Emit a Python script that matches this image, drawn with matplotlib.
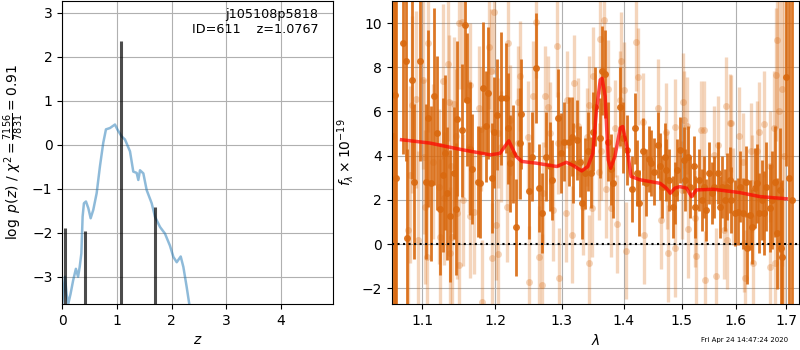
import matplotlib
matplotlib.use('Agg')
import matplotlib.pyplot as plt
from matplotlib.ticker import FixedLocator, NullLocator, FixedFormatter

# ---- left panel: redshift PDF ----
z_grid = [0.0, 0.05, 0.079, 0.11, 0.152, 0.2, 0.25, 0.29, 0.32, 0.35, 0.373, 0.397,
          0.434, 0.477, 0.52, 0.568, 0.63, 0.69, 0.75, 0.80, 0.873, 0.965, 1.008,
          1.087, 1.148, 1.24, 1.30, 1.362, 1.392, 1.423, 1.484, 1.545, 1.637, 1.698,
          1.79, 1.88, 1.97, 2.034, 2.095, 2.168, 2.217, 2.278, 2.327]
logpz = [-3.62, -3.0, -3.39, -3.62, -3.39, -3.08, -2.82, -3.0, -2.77, -2.47, -1.63, -1.33,
         -1.29, -1.44, -1.67, -1.48, -1.10, -0.49, 0.04, 0.35, 0.38, 0.46, 0.35,
         0.19, 0.12, -0.15, -0.61, -0.64, -0.80, -0.58, -0.65, -1.03, -1.33, -1.64,
         -1.87, -2.02, -2.29, -2.55, -2.67, -2.54, -2.78, -3.24, -3.64]
z_peaks = [0.05, 0.416, 1.077, 1.703]
peak_vals = [-1.89, -1.97, 2.37, -1.41]

# ---- right panel: spectrum ----
wl_dark = [1.0625, 1.0645, 1.0665, 1.0753, 1.0784, 1.0797, 1.087, 1.0896, 1.097, 1.1045, 1.108, 1.1115,
           1.116, 1.119, 1.123, 1.127, 1.130, 1.133, 1.137, 1.142, 1.145, 1.147,
           1.153, 1.158, 1.160, 1.164, 1.167, 1.176, 1.179, 1.183, 1.187, 1.190,
           1.195, 1.199, 1.203, 1.208, 1.216, 1.219, 1.222, 1.226, 1.231, 1.236,
           1.238, 1.250, 1.255, 1.260, 1.265, 1.269, 1.275, 1.281, 1.285, 1.294,
           1.299, 1.303, 1.311, 1.315, 1.317, 1.324, 1.328, 1.331, 1.336, 1.341,
           1.346, 1.349, 1.353, 1.360, 1.364, 1.369, 1.373, 1.378, 1.382, 1.394,
           1.398, 1.406, 1.413, 1.418, 1.422, 1.426, 1.432, 1.438, 1.442, 1.446,
           1.451, 1.458, 1.462, 1.466, 1.471, 1.473, 1.478, 1.484, 1.489, 1.492,
           1.498, 1.504, 1.507, 1.512, 1.516, 1.522, 1.525, 1.532, 1.537, 1.541,
           1.544, 1.550, 1.555, 1.560, 1.566, 1.570, 1.575, 1.580, 1.584, 1.590,
           1.592, 1.599, 1.604, 1.609, 1.615, 1.621, 1.622, 1.627, 1.632, 1.637,
           1.641, 1.645, 1.652, 1.655, 1.660, 1.667, 1.672, 1.678, 1.682, 1.687,
           1.690, 1.692, 1.699, 1.706, 1.712]
fl_dark = [4.9, 6.75, 3.0, 9.09, 8.26, 0.28, 7.43, 2.83, 8.26, 2.83, 5.70, 2.75,
           6.68, 5.03, 1.59, 3.13, 4.13, 2.30, 1.27, 3.21, 1.58, 5.67,
           5.14, 9.92, 6.53, 4.31, 3.39, 2.83, 2.78, 7.06, 5.32, 6.83,
           2.98, 5.05, 5.85, 6.60, 6.60, 5.24, 3.66, 4.08, 0.76, 4.56,
           5.88, 2.42, 3.96, 7.96, 2.53, 1.40, 3.96, 3.51, 2.90, 5.70,
           4.13, 4.64, 4.64, 4.86, 3.66, 4.71, 3.73, 1.85, 3.21, 4.19,
           3.23, 5.09, 6.22, 4.79, 7.85, 7.70, 4.64, 3.39, 2.78, 6.22,
           4.82, 4.26, 2.48, 5.24, 3.21, 1.85, 4.19, 2.78, 3.84, 3.66,
           3.28, 4.49, 3.51, 2.60, 3.96, 3.36, 2.90, 1.69, 2.30, 3.36,
           4.26, 3.81, 2.90, 3.96, 2.60, 3.51, 1.69, 2.90, 2.00, 2.60,
           1.54, 3.21, 2.30, 2.60, 3.21, 1.69, 2.60, 2.00, 2.60, 2.90,
           2.00, 1.40, 1.47, 2.60, 1.40, 2.83, -0.19, 1.32, 0.79, 2.53,
           2.75, 1.40, 2.00, 1.40, 2.60, 1.62, 2.00, 2.83, 0.49, 2.45,
           -0.19, -0.60, 7.55, 3.0, 2.0]
er_dark = [20.0, 20.0, 20.0, 5.0, 4.5, 4.0, 4.5, 3.5, 4.5, 3.5, 4.0, 3.5,
           4.0, 3.5, 3.0, 3.5, 3.5, 3.0, 3.0, 3.0, 3.0, 3.5,
           3.0, 3.5, 3.0, 3.0, 2.5, 2.5, 2.5, 3.0, 2.5, 3.0,
           2.5, 2.5, 2.5, 3.0, 2.5, 2.5, 2.2, 2.2, 2.2, 2.5,
           2.5, 2.2, 2.0, 2.5, 2.0, 1.8, 2.0, 2.0, 1.8, 2.2,
           1.8, 1.8, 2.0, 1.8, 1.8, 1.8, 1.6, 1.6, 1.6, 1.8,
           1.6, 1.8, 1.8, 1.8, 2.0, 2.0, 1.8, 1.6, 1.6, 1.8,
           1.6, 1.6, 1.5, 1.6, 1.5, 1.5, 1.5, 1.5, 1.5, 1.5,
           1.5, 1.5, 1.5, 1.4, 1.5, 1.4, 1.4, 1.4, 1.4, 1.4,
           1.5, 1.5, 1.4, 1.4, 1.4, 1.4, 1.4, 1.4, 1.4, 1.4,
           1.4, 1.4, 1.4, 1.4, 1.4, 1.4, 1.4, 1.4, 1.5, 1.5,
           1.5, 1.5, 1.5, 1.6, 1.6, 1.6, 1.6, 1.6, 1.7, 1.8,
           1.8, 1.8, 1.8, 1.9, 2.0, 2.0, 2.2, 2.5, 2.5, 2.8,
           3.0, 3.5, 4.0, 10.0, 20.0]

wl_light = [1.082, 1.084, 1.087, 1.092, 1.095, 1.101, 1.102, 1.103, 1.106, 1.108,
            1.114, 1.122, 1.124, 1.128, 1.129, 1.134, 1.136, 1.137, 1.138, 1.140,
            1.143, 1.145, 1.146, 1.149, 1.150, 1.154, 1.155, 1.163, 1.164, 1.165,
            1.170, 1.177, 1.180, 1.181, 1.191, 1.194, 1.195, 1.199, 1.202, 1.204,
            1.205, 1.209, 1.218, 1.219, 1.222, 1.233, 1.234, 1.237, 1.249, 1.250,
            1.256, 1.260, 1.265, 1.269, 1.271, 1.274, 1.279, 1.281, 1.286, 1.292,
            1.294, 1.296, 1.307, 1.308, 1.315, 1.319, 1.326, 1.333, 1.339, 1.342,
            1.343, 1.347, 1.350, 1.359, 1.361, 1.362, 1.367, 1.371, 1.374, 1.379,
            1.385, 1.389, 1.393, 1.396, 1.401, 1.404, 1.421, 1.423, 1.433, 1.434,
            1.458, 1.464, 1.472, 1.474, 1.476, 1.488, 1.489, 1.501, 1.502, 1.504,
            1.510, 1.511, 1.525, 1.527, 1.535, 1.541, 1.542, 1.560, 1.563, 1.566,
            1.578, 1.581, 1.584, 1.590, 1.591, 1.596, 1.607, 1.615, 1.616, 1.619,
            1.629, 1.632, 1.633, 1.642, 1.645, 1.656, 1.667, 1.668, 1.675, 1.678,
            1.680, 1.682, 1.686, 1.691, 1.696]
fl_light = [0.64, 3.13, 6.30, 6.56, 0.19, 7.40, 3.96, 1.68, -0.57, 9.09,
            3.73, 2.60, 0.34, 7.36, 2.07, 8.16, 6.45, -0.42, 3.54, 0.31,
            6.35, 4.90, 1.40, -0.95, 10.0, 10.03, 2.0, 4.41, 1.27, 7.2,
            1.47, 6.15, 5.20, -2.61, 8.91, 7.85, -0.64, 10.5, 0.87, 5.02,
            -0.45, 4.41, 1.69, 9.09, 5.62, 6.45, 4.56, 7.61, 4.86, -1.70,
            6.68, 10.03, -0.57, -1.85, 2.30, 6.68, 6.22, 5.03, 1.54, 8.97,
            4.56, -1.55, 1.40, 6.53, 0.42, 7.28, 5.32, 1.69, 4.84, 6.30,
            -0.87, 1.62, 7.61, 3.28, 9.27, 4.19, 10.12, 2.48, 7.01, 1.62,
            5.24, 0.91, 6.53, 8.30, 6.95, -0.30, 9.12, 7.58, 5.54, 0.41,
            6.15, 1.09, 5.09, 2.90, -0.42, -0.19, 5.29, 2.45, 6.45, 5.62,
            5.35, 0.67, 1.17, -0.54, 5.17, 5.17, -1.63, 4.04, -1.45, 4.49,
            0.64, 6.25, 0.19, 5.50, 5.47, 2.15, 4.90, 3.73, 0.04, -1.55,
            4.19, 2.75, -0.87, 4.19, 5.05, 5.44, 3.51, -1.02, 5.24, -0.87,
            7.66, 9.24, 6.0, 7.01, 4.0]
er_light = [4.0, 4.0, 4.0, 4.0, 4.0, 4.0, 3.5, 3.5, 3.5, 4.0,
            3.5, 3.5, 3.5, 3.5, 3.0, 3.5, 3.0, 3.0, 3.0, 3.0,
            3.0, 3.0, 3.0, 3.0, 3.0, 3.0, 3.0, 3.0, 2.8, 2.8,
            2.8, 2.8, 2.8, 2.8, 2.8, 2.8, 2.5, 2.8, 2.5, 2.5,
            2.5, 2.5, 2.5, 2.5, 2.5, 2.5, 2.5, 2.5, 2.5, 2.5,
            2.5, 2.5, 2.3, 2.3, 2.3, 2.3, 2.3, 2.3, 2.3, 2.3,
            2.3, 2.3, 2.2, 2.2, 2.2, 2.2, 2.2, 2.2, 2.2, 2.2,
            2.2, 2.2, 2.2, 2.2, 2.5, 2.2, 2.5, 2.2, 2.2, 2.2,
            2.2, 2.2, 2.2, 2.2, 2.2, 2.2, 2.2, 2.2, 2.2, 2.2,
            2.2, 2.2, 2.2, 2.2, 2.2, 2.2, 2.2, 2.2, 2.2, 2.2,
            2.2, 2.2, 2.2, 2.2, 2.2, 2.2, 2.2, 2.2, 2.2, 2.2,
            2.2, 2.2, 2.2, 2.2, 2.2, 2.2, 2.2, 2.2, 2.2, 2.2,
            2.2, 2.2, 2.2, 2.3, 2.3, 2.4, 2.5, 2.5, 2.6, 2.8,
            3.0, 4.0, 8.0, 8.0, 10.0]

wl_model = [1.0731, 1.110, 1.155, 1.193, 1.207, 1.220, 1.231, 1.239, 1.261, 1.292,
            1.307, 1.318, 1.331, 1.341, 1.349, 1.355, 1.361, 1.364, 1.369, 1.374,
            1.378, 1.385, 1.394, 1.398, 1.405, 1.412, 1.427, 1.462, 1.473, 1.480,
            1.488, 1.497, 1.509, 1.518, 1.527, 1.558, 1.608, 1.647, 1.700]
fl_model = [4.72, 4.57, 4.26, 4.04, 4.10, 4.67, 3.96, 3.74, 3.66, 3.51,
            3.70, 3.55, 3.31, 3.51, 4.11, 6.08, 7.43, 7.50, 6.68, 3.81,
            3.43, 3.96, 5.25, 5.32, 4.42, 3.06, 2.91, 2.75, 2.53, 2.30,
            2.53, 2.60, 2.53, 2.15, 2.45, 2.48, 2.33, 2.15, 2.05]

wl_ticks = [1.1, 1.2, 1.3, 1.4, 1.5, 1.6, 1.7]
wl_labels = ['1.1', '1.2', '1.3', '1.4', '1.5', '1.6', '1.7']

orange = '#d9690f'

fig = plt.figure(figsize=(8, 3.5), dpi=100)
ax1 = fig.add_axes([0.0778, 0.1314, 0.3388, 0.866])
ax2 = fig.add_axes([0.4896, 0.1314, 0.5095, 0.866])

# left: p(z)
ax1.plot(z_grid, logpz, color='#1f77b4', alpha=0.5, lw=1.8)
ax1.vlines(z_peaks, -5, peak_vals, color='k', alpha=0.7, lw=2.2)
ax1.set_xlim(0, 4.96)
ax1.set_ylim(-3.62, 3.27)
ax1.set_xticks([0, 1, 2, 3, 4])
ax1.set_yticks([-3, -2, -1, 0, 1, 2, 3])
ax1.grid(True)
ax1.set_xlabel('$z$')
ax1.set_ylabel(r'$\log\ p(z)$ / $\chi^2=\frac{7156}{7831}=0.91$')
ax1.text(0.945, 0.975, 'j105108p5818\nID=611    z=1.0767', transform=ax1.transAxes,
         ha='right', va='top', fontsize=9.2)

# right: spectrum
ax2.errorbar(wl_light, fl_light, yerr=er_light, fmt='o', color=orange, alpha=0.28,
             ms=5, mec='none', elinewidth=2.4, capsize=0)
ax2.errorbar(wl_dark, fl_dark, yerr=er_dark, fmt='o', color=orange, alpha=0.9,
             ms=5, mec='none', elinewidth=2, capsize=0)
ax2.plot(wl_model, fl_model, color='red', alpha=0.7, lw=2.5, zorder=10)
ax2.axhline(0, color='k', ls=':', lw=1.5, zorder=11)
ax2.set_xscale('log')
ax2.set_xlim(1.0605, 1.7268)
ax2.xaxis.set_major_locator(FixedLocator(wl_ticks))
ax2.xaxis.set_major_formatter(FixedFormatter(wl_labels))
ax2.xaxis.set_minor_locator(NullLocator())
ax2.set_ylim(-2.71, 11.0)
ax2.set_yticks([-2, 0, 2, 4, 6, 8, 10])
ax2.grid(True)
ax2.set_xlabel(r'$\lambda$')
ax2.set_ylabel(r'$f_\lambda\times10^{-19}$')

fig.text(0.985, 0.028, 'Fri Apr 24 14:47:24 2020', ha='right', va='center', fontsize=5)

fig.savefig('out.png', dpi=100)
